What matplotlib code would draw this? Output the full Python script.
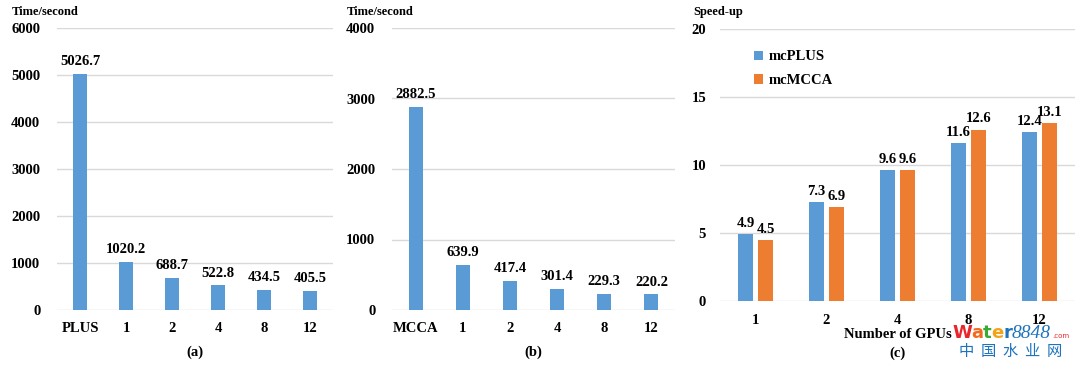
import matplotlib
matplotlib.use("Agg")
import matplotlib.pyplot as plt
import numpy as np

plt.rcParams['font.family'] = ['Liberation Serif', 'DejaVu Serif']
plt.rcParams['font.weight'] = 'bold'

# ---- data ----
cats_a = ["PLUS", "1", "2", "4", "8", "12"]
time_a = [5026.7, 1020.2, 688.7, 522.8, 434.5, 405.5]

cats_b = ["MCCA", "1", "2", "4", "8", "12"]
time_b = [2882.5, 639.9, 417.4, 301.4, 229.3, 220.2]

gpus = ["1", "2", "4", "8", "12"]
speed_plus = [4.9, 7.3, 9.6, 11.6, 12.4]
speed_mcca = [4.5, 6.9, 9.6, 12.6, 13.1]

BLUE = "#5B9BD5"
ORANGE = "#ED7D31"
GRID = "#D9D9D9"
FS = 10.5

fig = plt.figure(figsize=(10.8, 3.68), dpi=100)

def style(ax, ymax, step, pad_y):
    ax.set_ylim(0, ymax)
    ax.set_yticks(np.arange(0, ymax + 1, step))
    ax.yaxis.grid(True, color=GRID, linewidth=1)
    ax.set_axisbelow(True)
    for s in ax.spines.values():
        s.set_visible(False)
    ax.tick_params(axis='both', length=0, labelsize=FS)
    ax.tick_params(axis='y', pad=pad_y)
    ax.tick_params(axis='x', pad=9)
    for lab in ax.get_xticklabels() + ax.get_yticklabels():
        lab.set_fontweight('bold')

def single(ax, cats, vals, ymax, step, pad_y):
    x = np.arange(len(cats))
    bars = ax.bar(x, vals, width=0.3, color=BLUE)
    ax.set_xlim(-0.5, len(cats) - 0.5)
    ax.set_xticks(x)
    ax.set_xticklabels(cats)
    style(ax, ymax, step, pad_y)
    for b, v in zip(bars, vals):
        ax.annotate(f"{v:.1f}", (b.get_x() + b.get_width() / 2, v),
                    xytext=(0, 4), textcoords='offset points',
                    ha='center', va='bottom', fontsize=FS, fontweight='bold')

# panel (a)
ax1 = fig.add_axes([57 / 1080, 58 / 368, 276 / 1080, 282 / 368])
single(ax1, cats_a, time_a, 6000, 1000, 12)
fig.text(12 / 1080, 1 - 12 / 368, "Time/second", fontsize=9, fontweight='bold', va='center', ha='left')
fig.text(195 / 1080, 1 - 352 / 368, "(a)", fontsize=FS, fontweight='bold', ha='center', va='center')

# panel (b)
ax2 = fig.add_axes([392 / 1080, 58 / 368, 283 / 1080, 282 / 368])
single(ax2, cats_b, time_b, 4000, 1000, 12)
fig.text(347 / 1080, 1 - 12 / 368, "Time/second", fontsize=9, fontweight='bold', va='center', ha='left')
fig.text(533 / 1080, 1 - 352 / 368, "(b)", fontsize=FS, fontweight='bold', ha='center', va='center')

# panel (c)
ax3 = fig.add_axes([720 / 1080, 67 / 368, 355 / 1080, 272 / 368])
x = np.arange(len(gpus))
w = 0.21
off = 0.14
b1 = ax3.bar(x - off, speed_plus, width=w, color=BLUE, label="mcPLUS")
b2 = ax3.bar(x + off, speed_mcca, width=w, color=ORANGE, label="mcMCCA")
ax3.set_xlim(-0.5, len(gpus) - 0.5)
ax3.set_xticks(x)
ax3.set_xticklabels(gpus)
style(ax3, 20, 5, 10)
for bars, vals in ((b1, speed_plus), (b2, speed_mcca)):
    for b, v in zip(bars, vals):
        ax3.annotate(f"{v:.1f}", (b.get_x() + b.get_width() / 2, v),
                     xytext=(0, 3), textcoords='offset points',
                     ha='center', va='bottom', fontsize=FS, fontweight='bold')
leg = ax3.legend(loc='upper left', bbox_to_anchor=(0.06, 0.97), frameon=False,
                 prop={'size': FS, 'weight': 'bold'}, handlelength=0.6,
                 handleheight=0.6, handletextpad=0.4, labelspacing=0.75)
fig.text(693 / 1080, 1 - 12 / 368, "Speed-up", fontsize=9, fontweight='bold', va='center', ha='left')
fig.text(898 / 1080, 1 - 334 / 368, "Number of GPUs", fontsize=FS, fontweight='bold', ha='center', va='center')
fig.text(898 / 1080, 1 - 353 / 368, "(c)", fontsize=FS, fontweight='bold', ha='center', va='center')

# watermark (letters placed one after another using measured widths)
renderer = fig.canvas.get_renderer()
wm_letters = ["W", "a", "t", "e", "r"]
wm_colors = ["#E8262B", "#F26B1D", "#3BAA35", "#F5A21B", "#1E73BE"]
xpos = 952.0
ybase = 368 - 338
for ch, c in zip(wm_letters, wm_colors):
    t = fig.text(xpos / 1080, ybase / 368, ch, fontsize=13, fontweight='bold',
                 family='DejaVu Sans', color=c, ha='left', va='baseline', zorder=5)
    bb = t.get_window_extent(renderer)
    xpos += bb.width * 0.97
t = fig.text(xpos / 1080, ybase / 368, "8848", fontsize=14, style='italic', fontweight='normal',
             color="#1E73BE", ha='left', va='baseline', zorder=5)
xpos += t.get_window_extent(renderer).width + 1
fig.text(xpos / 1080, ybase / 368, ".com", fontsize=5, color="#E8262B", fontweight='normal',
         family='DejaVu Sans', ha='left', va='baseline', zorder=5)
fig.text(1011 / 1080, 1 - 351 / 368, "中  国  水  业  网", fontsize=11, color="#1E73BE",
         family=['Noto Sans CJK SC', 'DejaVu Sans'], fontweight='normal', ha='center', va='center')

fig.savefig("out.png", dpi=100)
